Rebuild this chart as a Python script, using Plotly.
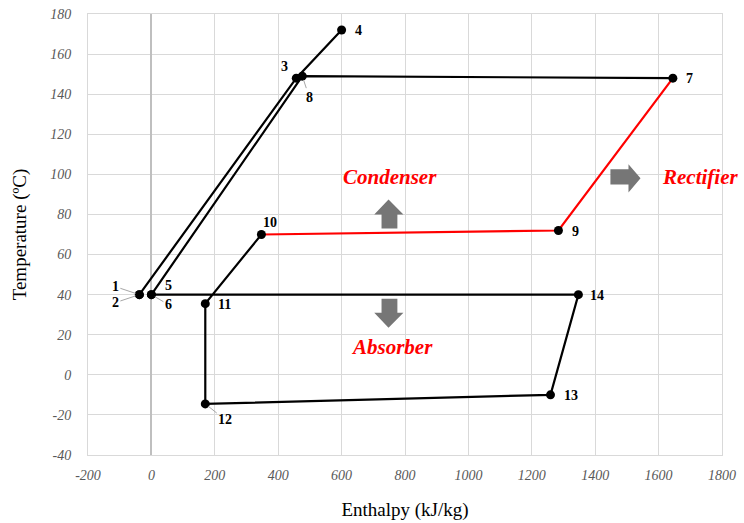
import plotly.graph_objects as go

# State points
labels = ["1", "2", "3", "4", "5", "6", "7", "8", "9", "10", "11", "12", "13", "14"]
enthalpy = [-38, -38, 457, 600, 0, 0, 1645, 476, 1284, 347, 170, 170, 1259, 1347]
temperature = [40, 40, 148, 172, 40, 40, 148, 149, 72, 70, 35.5, -14.5, -10, 40]

# Paths (by label)
black_paths = [["1", "3", "4"], ["6", "8", "7"], ["10", "11", "12", "13", "14", "5"]]
red_paths = [["7", "9", "10"]]

x_ticks = list(range(-200, 1801, 200))
y_ticks = list(range(-40, 181, 20))

idx = {l: i for i, l in enumerate(labels)}
fig = go.Figure()

for path, color in [(p, "black") for p in black_paths] + [(p, "#ff0000") for p in red_paths]:
    fig.add_trace(go.Scatter(
        x=[enthalpy[idx[l]] for l in path],
        y=[temperature[idx[l]] for l in path],
        mode="lines", line=dict(color=color, width=2.2),
        showlegend=False, hoverinfo="skip"))

fig.add_trace(go.Scatter(x=enthalpy, y=temperature, mode="markers",
                         marker=dict(color="black", size=9),
                         showlegend=False))

label_font = dict(family="Liberation Serif", size=14, color="black", weight="bold")
# label offsets (px) and whether a leader line is drawn
offsets = {"1": (-24, -8, True), "2": (-24, 8, True), "5": (17, -9, False), "6": (17, 10, True),
           "3": (-12, -12, False), "8": (7, 21, True), "4": (17, 0, False), "7": (17, 0, False),
           "9": (17, 1, False), "10": (9, -12, False), "11": (19, 1, False), "12": (20, 16, True),
           "13": (20, 1, False), "14": (19, 1, False)}
for l in labels:
    dx, dy, leader = offsets[l]
    i = idx[l]
    if leader:
        fig.add_annotation(x=enthalpy[i], y=temperature[i], text=l, showarrow=True,
                           ax=dx, ay=dy, arrowhead=0, arrowwidth=1, arrowcolor="#a6a6a6",
                           standoff=4, font=label_font)
    else:
        fig.add_annotation(x=enthalpy[i], y=temperature[i], text=l, showarrow=False,
                           xshift=dx, yshift=-dy, font=label_font)

red_font = dict(family="Liberation Serif", size=21, color="#ff0000", weight="bold", style="italic")
fig.add_annotation(x=754, y=98.5, text="Condenser", showarrow=False, font=red_font)
fig.add_annotation(x=760, y=14, text="Absorber", showarrow=False, font=red_font)
fig.add_annotation(x=1732, y=98.5, text="Rectifier", showarrow=False, font=red_font)

gray = "#767676"
fig.add_shape(type="path", xref="x", yref="y", fillcolor=gray, line=dict(width=0),
              path="M 726 73 L 776 73 L 776 80 L 795 80 L 748 87.5 L 703 80 L 726 80 Z")
fig.add_shape(type="path", xref="x", yref="y", fillcolor=gray, line=dict(width=0),
              path="M 726 38 L 776 38 L 776 31 L 795 31 L 748 23.5 L 703 31 L 726 31 Z")
fig.add_shape(type="path", xref="x", yref="y", fillcolor=gray, line=dict(width=0),
              path="M 1448 102.5 L 1505 102.5 L 1505 105 L 1543 98 L 1505 91 L 1505 95 L 1448 95 Z")

tick_font = dict(family="Liberation Serif", size=14, color="#595959", style="italic")
title_font = dict(family="Liberation Serif", size=19, color="black")
fig.update_xaxes(range=[-200, 1800], tickvals=x_ticks, ticktext=[str(v) for v in x_ticks],
                 showgrid=True, gridcolor="#d9d9d9",
                 gridwidth=1, zeroline=True, zerolinecolor="#bfbfbf", zerolinewidth=1.5,
                 tickfont=tick_font, title=dict(text="Enthalpy (kJ/kg)", font=title_font, standoff=20),
                 showline=True, linecolor="#d9d9d9", mirror=True, ticks="", automargin=False,
                 ticklabelstandoff=7)
fig.update_yaxes(range=[-40, 180], tickvals=y_ticks, ticktext=[str(v) for v in y_ticks],
                 showgrid=True, gridcolor="#d9d9d9",
                 gridwidth=1, zeroline=False, tickfont=tick_font,
                 title=dict(text="Temperature (ºC)", font=title_font, standoff=18),
                 showline=True, linecolor="#d9d9d9", mirror=True, ticks="", automargin=False,
                 ticklabelstandoff=13)
fig.update_layout(width=744, height=523, plot_bgcolor="white", paper_bgcolor="white",
                  margin=dict(l=88, r=22, t=14, b=68))

fig.write_html("out.html", config={"displayModeBar": False},
               post_script="document.body.style.margin='0';")
